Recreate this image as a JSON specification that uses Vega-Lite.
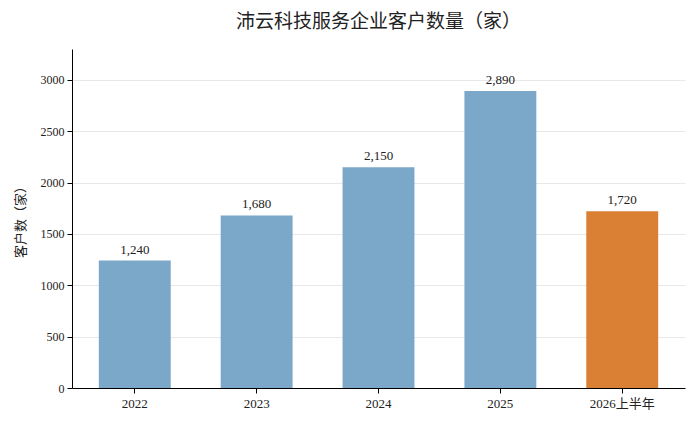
{
  "$schema": "https://vega.github.io/schema/vega-lite/v6.json",
  "width": 613,
  "height": 339,
  "autosize": "none",
  "padding": {"left": 72, "top": 49, "right": 11, "bottom": 37},
  "background": "white",
  "config": {
    "font": "Liberation Serif, Noto Sans CJK SC",
    "view": {"stroke": null}
  },
  "title": {
    "text": "沛云科技服务企业客户数量（家）",
    "fontSize": 19,
    "fontWeight": "normal",
    "font": "Liberation Serif, Noto Sans CJK SC",
    "color": "#222222",
    "offset": 17
  },
  "data": {
    "values": [
      {"period": "2022", "count": 1240, "type": "full"},
      {"period": "2023", "count": 1680, "type": "full"},
      {"period": "2024", "count": 2150, "type": "full"},
      {"period": "2025", "count": 2890, "type": "full"},
      {"period": "2026上半年", "count": 1720, "type": "half"}
    ]
  },
  "encoding": {
    "x": {
      "field": "period",
      "type": "nominal",
      "sort": null,
      "scale": {"paddingInner": 0.41, "paddingOuter": 0.22},
      "axis": {
        "title": null,
        "labelAngle": 0,
        "labelFontSize": 13,
        "labelColor": "#222222",
        "domainColor": "#000000",
        "tickColor": "#000000",
        "tickSize": 5,
        "labelPadding": 4,
        "grid": false
      }
    },
    "y": {
      "field": "count",
      "type": "quantitative",
      "scale": {"domain": [0, 3300], "nice": false},
      "axis": {
        "title": "客户数（家）",
        "titleFontSize": 13,
        "titleFontWeight": "normal",
        "titleColor": "#222222",
        "titlePadding": 13,
        "values": [0, 500, 1000, 1500, 2000, 2500, 3000],
        "labelFontSize": 12,
        "labelColor": "#222222",
        "labelPadding": 3,
        "domainColor": "#000000",
        "tickColor": "#000000",
        "tickSize": 5,
        "grid": true,
        "gridColor": "#e8e8e8",
        "format": "d"
      }
    }
  },
  "layer": [
    {
      "mark": {"type": "bar"},
      "encoding": {
        "color": {
          "field": "type",
          "type": "nominal",
          "scale": {"domain": ["full", "half"], "range": ["#7ba7c9", "#d98034"]},
          "legend": null
        }
      }
    },
    {
      "mark": {"type": "text", "dy": -4, "fontSize": 13, "color": "#222222", "baseline": "bottom"},
      "encoding": {
        "text": {"field": "count", "type": "quantitative", "format": ","}
      }
    }
  ]
}
